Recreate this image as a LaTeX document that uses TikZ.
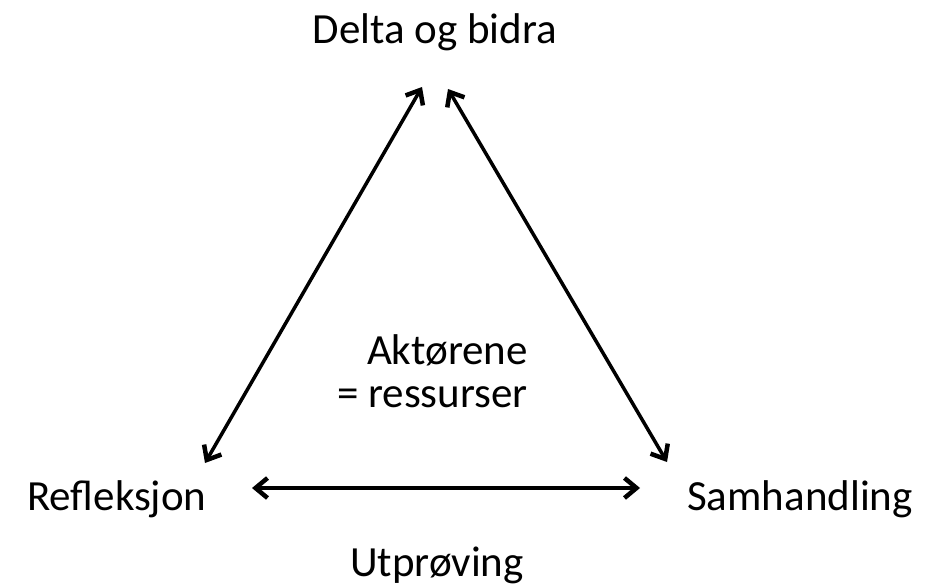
\documentclass[tikz,border=0pt]{standalone}
\usepackage{fontspec}
\setmainfont{Carlito}
\usetikzlibrary{arrows.meta}
\begin{document}
\begin{tikzpicture}[x=1pt,y=-1pt,
  lbl/.style={inner sep=0pt,font=\fontsize{43}{43}\selectfont},
  tip/.style={Straight Barb[length=12pt,width=20pt,line width=4pt]},
  link/.style={line width=3.5pt,{Straight Barb[length=12pt,width=20pt,line width=4.5pt]}-{Straight Barb[length=12pt,width=20pt,line width=4.5pt]}}]
\useasboundingbox (0,0) rectangle (936,588);
\node[lbl,anchor=base] (top) at (435,44) {Delta og bidra};
\node[lbl,anchor=base west] (left) at (27,510) {Refleksjon};
\node[lbl,anchor=base west] (right) at (687,510) {Samhandling};
\node[lbl,anchor=base] (bottom) at (437,576) {Utprøving};
\node[lbl,anchor=base east] (c1) at (528,364) {Aktørene};
\node[lbl,anchor=base east] (c2) at (528,407) {= ressurser};
\coordinate (tl) at (422,87);
\coordinate (tr) at (448,89);
\coordinate (lb) at (205,463);
\coordinate (rb) at (667,462);
\coordinate (bl) at (252,488);
\coordinate (br) at (640,488);
\draw[link] (lb) -- (tl);
\draw[link] (tr) -- (rb);
\draw[link] (bl) -- (br);
\end{tikzpicture}
\end{document}
